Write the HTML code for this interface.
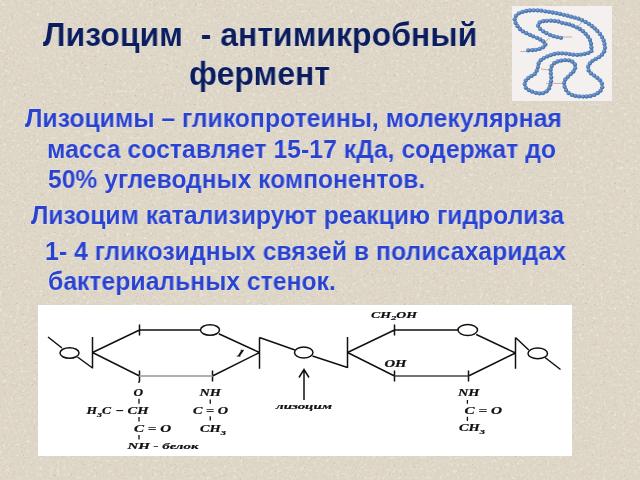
<!DOCTYPE html>
<html><head><meta charset="utf-8">
<style>
html,body{margin:0;padding:0;}
body{width:640px;height:480px;overflow:hidden;position:relative;background:#ded6c7;font-family:"Liberation Sans",sans-serif;}
.t{position:absolute;white-space:nowrap;font-weight:bold;line-height:1;will-change:transform;}
.ti{font-size:33px;color:#0b1d5c;text-shadow:0 0 1px rgba(255,255,255,0.9),0 0 1.6px rgba(240,240,255,0.7);transform-origin:0 0;transform:scaleX(0.97);}
.b{font-size:25px;color:#2943cf;text-shadow:0 0 1px rgba(255,255,255,0.9),0 0 1.6px rgba(240,240,255,0.7);transform-origin:0 0;transform:scaleX(0.988);}
#dg{position:absolute;left:38px;top:305px;width:534px;height:151px;background:#fff;}
#pr{position:absolute;left:512px;top:6px;width:100px;height:95px;background:#f3f0ef;}
svg{position:absolute;left:0;top:0;will-change:transform;}
</style></head><body>
<svg width="640" height="480" style="position:absolute;left:0;top:0">
<filter id="m" x="0" y="0" width="100%" height="100%"><feTurbulence type="fractalNoise" baseFrequency="0.3" numOctaves="3" seed="11"/><feColorMatrix values="0 0 0 0 0.94  0 0 0 0 0.92  0 0 0 0 0.87  1.6 0 0 0 -0.88"/></filter>
<filter id="n" x="0" y="0" width="100%" height="100%"><feTurbulence type="fractalNoise" baseFrequency="0.45" numOctaves="3" seed="7"/><feColorMatrix values="0 0 0 0 0.62  0 0 0 0 0.55  0 0 0 0 0.45  2.4 0 0 0 -1.38"/></filter>
<filter id="d" x="0" y="0" width="100%" height="100%"><feTurbulence type="fractalNoise" baseFrequency="0.9" numOctaves="1" seed="3"/><feColorMatrix values="0 0 0 0 0.4  0 0 0 0 0.35  0 0 0 0 0.28  5 0 0 0 -3.5"/></filter>
<rect width="640" height="480" filter="url(#m)"/><rect width="640" height="480" filter="url(#n)"/><rect width="640" height="480" filter="url(#d)"/>
</svg>
<div class="t ti" style="left:43px;top:18.4px">Лизоцим&nbsp; - антимикробный</div>
<div class="t ti" style="left:189px;top:57px">фермент</div>
<div class="t b" style="left:24.5px;top:106.1px;transform:scaleX(0.9916)">Лизоцимы – гликопротеины, молекулярная</div>
<div class="t b" style="left:47.4px;top:137.3px;transform:scaleX(0.9922)">масса составляет 15-17 кДа, содержат до</div>
<div class="t b" style="left:47.75px;top:166.5px;transform:scaleX(0.9852)">50% углеводных компонентов.</div>
<div class="t b" style="left:31.2px;top:202.8px;transform:scaleX(0.9873)">Лизоцим катализируют реакцию гидролиза</div>
<div class="t b" style="left:44.9px;top:238.6px;transform:scaleX(0.9930)">1- 4 гликозидных связей в полисахаридах</div>
<div class="t b" style="left:47.6px;top:269.2px;transform:scaleX(0.9890)">бактериальных стенок.</div>
<div id="pr"></div>
<div id="dg"></div>
<svg width="640" height="480" viewBox="0 0 640 480">
<defs><radialGradient id="bd" cx="0.4" cy="0.35" r="0.65"><stop offset="0" stop-color="#86a9d4"/><stop offset="0.6" stop-color="#4f7db9"/><stop offset="1" stop-color="#3a639c"/></radialGradient></defs>
<path d="M528.2 50.4 C529.5 50.3 533.6 50.2 536.0 49.8 C538.4 49.4 540.7 48.6 542.3 47.8 C543.9 46.9 545.2 45.6 545.4 44.6 C545.6 43.6 544.5 42.5 543.3 41.5 C542.1 40.5 540.2 39.4 538.1 38.4 C536.0 37.4 533.4 36.5 530.8 35.2 C528.2 34.0 524.8 32.7 522.5 31.1 C520.2 29.5 518.6 27.8 517.3 25.9 C516.0 24.0 514.7 21.5 514.7 19.6 C514.7 17.7 515.6 15.8 517.3 14.4 C518.9 13.0 521.6 12.0 524.6 11.3 C527.6 10.6 531.5 10.2 535.0 10.2 C538.5 10.2 542.1 10.9 545.4 11.3 C548.7 11.7 552.0 12.3 554.8 12.8 C557.6 13.4 559.4 13.8 562.0 14.4 C564.6 15.0 567.3 15.6 570.4 16.5 C573.5 17.4 577.5 18.2 580.8 19.6 C584.1 21.0 587.4 22.9 590.2 24.8 C593.0 26.7 595.4 28.8 597.5 31.1 C599.6 33.4 601.5 36.0 602.7 38.4 C603.9 40.8 604.5 43.6 604.8 45.7 C605.1 47.8 605.3 49.2 604.5 51.0 C603.7 52.8 602.0 54.9 600.0 56.5 C598.0 58.1 594.5 59.2 592.5 60.8 C590.5 62.4 588.7 64.5 588.2 66.3 C587.7 68.1 588.2 70.1 589.3 71.7 C590.4 73.3 592.9 74.5 594.7 76.0 C596.5 77.5 598.8 78.8 600.1 80.4 C601.4 82.0 602.3 84.0 602.3 85.8 C602.3 87.6 601.7 89.6 600.1 91.2 C598.5 92.8 595.6 94.6 592.5 95.5 C589.4 96.4 585.3 96.8 581.7 96.6 C578.1 96.4 573.5 95.8 570.8 94.5 C568.1 93.2 566.5 91.2 565.4 89.0 C564.3 86.8 563.8 83.6 564.3 81.5 C564.8 79.3 567.1 77.8 568.7 76.0 C570.3 74.2 573.0 72.4 574.1 70.6 C575.2 68.8 575.8 66.8 575.2 65.2 C574.7 63.6 572.6 61.6 570.8 60.8 C569.0 60.0 566.7 60.1 564.3 60.3 C561.9 60.5 558.6 61.1 556.6 61.9 C554.6 62.7 553.2 63.8 552.2 65.2 C551.2 66.7 550.8 68.6 550.6 70.6 C550.4 72.6 551.2 74.9 551.2 77.1 C551.2 79.3 551.2 81.4 550.6 83.6 C550.0 85.8 549.2 88.5 547.9 90.1 C546.5 91.7 544.5 92.8 542.5 93.3 C540.5 93.8 538.2 93.2 536.0 92.8 C533.8 92.3 531.3 91.6 529.5 90.6 C527.7 89.6 525.9 88.3 525.2 86.8 C524.5 85.3 524.5 83.0 525.2 81.4 C525.9 79.8 527.9 78.4 529.5 77.1 C531.1 75.8 533.5 75.2 534.9 73.8 C536.2 72.3 536.9 70.4 537.6 68.4 C538.3 66.4 538.1 63.7 539.2 61.9 C540.4 60.1 542.4 58.9 544.7 57.6 C547.0 56.3 550.8 55.0 553.3 54.3 C555.8 53.6 557.6 53.3 560.0 53.2 C562.4 53.2 564.9 53.5 567.6 53.8 C570.3 54.1 573.4 54.9 576.3 54.9 C579.2 54.9 582.5 54.4 585.0 53.8 C587.5 53.2 590.5 52.3 591.5 51.1 C592.5 49.9 591.5 48.5 591.2 46.7 C591.0 44.9 591.1 42.6 590.2 40.5 C589.3 38.4 587.7 36.1 586.0 34.2 C584.3 32.3 582.4 30.6 579.8 29.0 C577.2 27.4 573.4 25.8 570.4 24.8 C567.4 23.8 564.2 23.4 562.0 22.8 C559.8 22.1 559.1 21.5 556.9 21.2 C554.6 20.9 551.1 20.6 548.5 20.7 C545.9 20.8 543.0 21.0 541.2 21.7 C539.5 22.4 538.3 23.6 538.1 24.8 C537.9 26.0 538.8 27.6 540.2 29.0 C541.6 30.4 544.2 32.0 546.5 33.2 C548.8 34.4 551.2 35.5 553.8 36.3 C556.3 37.1 560.6 37.7 562.0 38.0" fill="none" stroke="#7aa0cf" stroke-width="2.4" stroke-linecap="round" stroke-linejoin="round"/>
<g fill="url(#bd)"><circle cx="528.2" cy="50.4" r="2.15"/><circle cx="532.2" cy="50.2" r="2.15"/><circle cx="535.8" cy="49.8" r="2.15"/><circle cx="539.6" cy="48.9" r="2.15"/><circle cx="543.0" cy="47.3" r="2.15"/><circle cx="545.4" cy="44.6" r="2.15"/><circle cx="543.3" cy="41.5" r="2.15"/><circle cx="540.2" cy="39.5" r="2.15"/><circle cx="536.8" cy="37.8" r="2.15"/><circle cx="533.1" cy="36.3" r="2.15"/><circle cx="529.8" cy="34.8" r="2.15"/><circle cx="526.3" cy="33.2" r="2.15"/><circle cx="522.8" cy="31.3" r="2.15"/><circle cx="519.9" cy="29.0" r="2.15"/><circle cx="517.5" cy="26.2" r="2.15"/><circle cx="515.6" cy="22.9" r="2.15"/><circle cx="514.7" cy="19.3" r="2.15"/><circle cx="516.0" cy="15.8" r="2.15"/><circle cx="518.9" cy="13.3" r="2.15"/><circle cx="522.4" cy="11.9" r="2.15"/><circle cx="526.2" cy="11.0" r="2.15"/><circle cx="529.9" cy="10.5" r="2.15"/><circle cx="533.7" cy="10.3" r="2.15"/><circle cx="537.6" cy="10.4" r="2.15"/><circle cx="541.3" cy="10.7" r="2.15"/><circle cx="545.2" cy="11.3" r="2.15"/><circle cx="548.9" cy="11.8" r="2.15"/><circle cx="552.6" cy="12.5" r="2.15"/><circle cx="556.4" cy="13.2" r="2.15"/><circle cx="560.0" cy="13.9" r="2.15"/><circle cx="563.8" cy="14.8" r="2.15"/><circle cx="567.5" cy="15.7" r="2.15"/><circle cx="571.1" cy="16.7" r="2.15"/><circle cx="574.7" cy="17.6" r="2.15"/><circle cx="578.5" cy="18.7" r="2.15"/><circle cx="582.0" cy="20.1" r="2.15"/><circle cx="585.5" cy="21.9" r="2.15"/><circle cx="588.7" cy="23.8" r="2.15"/><circle cx="591.8" cy="26.0" r="2.15"/><circle cx="594.7" cy="28.3" r="2.15"/><circle cx="597.3" cy="30.9" r="2.15"/><circle cx="599.9" cy="33.9" r="2.15"/><circle cx="602.0" cy="37.1" r="2.15"/><circle cx="603.6" cy="40.5" r="2.15"/><circle cx="604.5" cy="44.0" r="2.15"/><circle cx="605.0" cy="47.8" r="2.15"/><circle cx="604.2" cy="51.5" r="2.15"/><circle cx="602.0" cy="54.7" r="2.15"/><circle cx="599.2" cy="57.1" r="2.15"/><circle cx="595.8" cy="58.9" r="2.15"/><circle cx="592.5" cy="60.8" r="2.15"/><circle cx="589.8" cy="63.5" r="2.15"/><circle cx="588.1" cy="66.7" r="2.15"/><circle cx="588.6" cy="70.4" r="2.15"/><circle cx="591.0" cy="73.4" r="2.15"/><circle cx="594.1" cy="75.6" r="2.15"/><circle cx="597.2" cy="77.8" r="2.15"/><circle cx="600.0" cy="80.3" r="2.15"/><circle cx="601.9" cy="83.6" r="2.15"/><circle cx="602.2" cy="87.3" r="2.15"/><circle cx="600.6" cy="90.7" r="2.15"/><circle cx="597.6" cy="93.2" r="2.15"/><circle cx="594.3" cy="94.9" r="2.15"/><circle cx="590.5" cy="96.0" r="2.15"/><circle cx="586.7" cy="96.5" r="2.15"/><circle cx="583.1" cy="96.6" r="2.15"/><circle cx="579.1" cy="96.4" r="2.15"/><circle cx="575.3" cy="95.9" r="2.15"/><circle cx="571.9" cy="94.9" r="2.15"/><circle cx="568.5" cy="93.0" r="2.15"/><circle cx="566.0" cy="90.1" r="2.15"/><circle cx="564.6" cy="86.8" r="2.15"/><circle cx="564.1" cy="83.0" r="2.15"/><circle cx="565.3" cy="79.5" r="2.15"/><circle cx="567.9" cy="76.8" r="2.15"/><circle cx="570.7" cy="74.1" r="2.15"/><circle cx="573.4" cy="71.5" r="2.15"/><circle cx="575.2" cy="68.1" r="2.15"/><circle cx="574.9" cy="64.4" r="2.15"/><circle cx="572.3" cy="61.7" r="2.15"/><circle cx="568.9" cy="60.3" r="2.15"/><circle cx="565.0" cy="60.2" r="2.15"/><circle cx="561.1" cy="60.7" r="2.15"/><circle cx="557.6" cy="61.5" r="2.15"/><circle cx="554.2" cy="63.2" r="2.15"/><circle cx="551.7" cy="66.1" r="2.15"/><circle cx="550.7" cy="69.7" r="2.15"/><circle cx="550.8" cy="73.5" r="2.15"/><circle cx="551.2" cy="77.3" r="2.15"/><circle cx="551.0" cy="81.2" r="2.15"/><circle cx="550.3" cy="84.8" r="2.15"/><circle cx="549.0" cy="88.4" r="2.15"/><circle cx="546.6" cy="91.3" r="2.15"/><circle cx="543.2" cy="93.1" r="2.15"/><circle cx="539.5" cy="93.4" r="2.15"/><circle cx="535.8" cy="92.8" r="2.15"/><circle cx="532.1" cy="91.7" r="2.15"/><circle cx="528.7" cy="90.1" r="2.15"/><circle cx="525.8" cy="87.8" r="2.15"/><circle cx="524.7" cy="84.1" r="2.15"/><circle cx="525.7" cy="80.6" r="2.15"/><circle cx="528.4" cy="78.0" r="2.15"/><circle cx="531.6" cy="75.9" r="2.15"/><circle cx="534.8" cy="73.9" r="2.15"/><circle cx="536.7" cy="70.7" r="2.15"/><circle cx="537.9" cy="67.1" r="2.15"/><circle cx="538.6" cy="63.4" r="2.15"/><circle cx="540.8" cy="60.2" r="2.15"/><circle cx="543.8" cy="58.1" r="2.15"/><circle cx="547.3" cy="56.4" r="2.15"/><circle cx="550.8" cy="55.1" r="2.15"/><circle cx="554.4" cy="54.0" r="2.15"/><circle cx="558.1" cy="53.4" r="2.15"/><circle cx="562.0" cy="53.3" r="2.15"/><circle cx="565.8" cy="53.6" r="2.15"/><circle cx="569.5" cy="54.1" r="2.15"/><circle cx="573.2" cy="54.7" r="2.15"/><circle cx="577.2" cy="54.9" r="2.15"/><circle cx="580.8" cy="54.6" r="2.15"/><circle cx="584.6" cy="53.9" r="2.15"/><circle cx="588.3" cy="52.9" r="2.15"/><circle cx="591.5" cy="51.1" r="2.15"/><circle cx="591.4" cy="47.5" r="2.15"/><circle cx="591.0" cy="43.7" r="2.15"/><circle cx="590.0" cy="40.0" r="2.15"/><circle cx="588.0" cy="36.6" r="2.15"/><circle cx="585.6" cy="33.8" r="2.15"/><circle cx="582.9" cy="31.2" r="2.15"/><circle cx="579.8" cy="29.0" r="2.15"/><circle cx="576.5" cy="27.3" r="2.15"/><circle cx="572.8" cy="25.7" r="2.15"/><circle cx="569.3" cy="24.4" r="2.15"/><circle cx="565.7" cy="23.6" r="2.15"/><circle cx="562.0" cy="22.8" r="2.15"/><circle cx="558.3" cy="21.5" r="2.15"/><circle cx="554.6" cy="20.9" r="2.15"/><circle cx="550.8" cy="20.7" r="2.15"/><circle cx="546.9" cy="20.8" r="2.15"/><circle cx="543.3" cy="21.2" r="2.15"/><circle cx="539.7" cy="22.5" r="2.15"/><circle cx="538.1" cy="25.7" r="2.15"/><circle cx="540.1" cy="28.9" r="2.15"/><circle cx="543.2" cy="31.3" r="2.15"/><circle cx="546.5" cy="33.2" r="2.15"/><circle cx="549.8" cy="34.8" r="2.15"/><circle cx="553.4" cy="36.2" r="2.15"/><circle cx="557.1" cy="37.1" r="2.15"/><circle cx="560.9" cy="37.8" r="2.15"/></g>
<g stroke="#8c6e5a" stroke-width="0.6" opacity="0.8"><path d="M578 26.7L582.2 21.5M544 43.2L549.2 38M520.3 51.5H527.5M563 37H571.9M541 69L550.2 70M546 83.4H562.6"/></g>
<g stroke="#111" stroke-width="1.5" fill="none">
<path d="M48 337L62 348M77.5 357L92.5 368M92.5 337V368.5M92.5 352.5L139.5 330M92.5 352.5L139.5 376M139.5 324.5V335.5M139.5 370.5V381.5M139.5 330H200.5"/>
<ellipse cx="69.5" cy="353" rx="9.5" ry="5.3"/>
<ellipse cx="210" cy="330" rx="9.5" ry="5.3"/>
<path d="M218.75 333.75L259.5 352.5M212.5 376L259.5 352.5M212.5 370.5V381.5M259.5 337.5V368.75M259.5 337.5L295 350"/>
<ellipse cx="303.75" cy="352.5" rx="9.25" ry="5.5"/>
<path d="M312.5 356L347.5 367.5M347.5 337V368M347.5 352.5L394.5 330M347.5 352.5L394.5 376M394.5 324.5V335.5M394.5 370.5V381.5M394.5 330H458"/>
<ellipse cx="467.75" cy="330" rx="9.75" ry="5.5"/>
<path d="M476.25 334.5L515.5 353M468.5 376L515.5 353M468.5 370.5V381.5M515.5 337.5V368.75M515.5 337.5L528.75 350"/>
<ellipse cx="537.75" cy="353.4" rx="9.75" ry="5.4"/>
<path d="M545 357.5L560.5 369.5"/>
<path d="M304 370V400M299 377.5L304 369.5L309 377.5"/>
<path d="M242.6 350.4L238.8 356" stroke-width="2.1"/><path d="M240.6 350.3H244M236.8 356.1H240.4" stroke-width="0.9"/>
<path d="M139 381V383M139 398.75V403.75M139 417V421.5M139 435V439.4M210.25 399.4V403.75M210.25 416.25V420.6M467.4 399.9V403.8M467.4 416.7V421" stroke-width="1.3"/>
</g>
<path d="M139.5 376H212.5" stroke="#b0b0b0" stroke-width="1.8"/><path d="M394.5 376H468.5" stroke="#444" stroke-width="1.6"/>
<g font-family="Liberation Serif" font-weight="bold" font-style="italic" font-size="9.6" fill="#111" stroke="#111" stroke-width="0.2">
<text x="133.5" y="395.6" textLength="9.6" lengthAdjust="spacingAndGlyphs">O</text>
<text x="86.5" y="413.75" textLength="24.5" lengthAdjust="spacingAndGlyphs">H<tspan dy="3" font-size="7">3</tspan><tspan dy="-3">C</tspan></text><path d="M116.3 410.6H123.2" stroke-width="1.1"/><text x="127.6" y="413.75" textLength="21" lengthAdjust="spacingAndGlyphs">CH</text>
<text x="134" y="431.75" textLength="37" lengthAdjust="spacingAndGlyphs">C = O</text>
<text x="127.5" y="449" textLength="71" lengthAdjust="spacingAndGlyphs" font-size="9">NH - белок</text>
<text x="199.5" y="395.6" textLength="21.5" lengthAdjust="spacingAndGlyphs">NH</text>
<text x="193" y="413.75" textLength="35" lengthAdjust="spacingAndGlyphs">C = O</text>
<text x="200" y="431.7" textLength="26" lengthAdjust="spacingAndGlyphs">CH<tspan dy="3" font-size="7">3</tspan></text>
<text x="276" y="409" textLength="56" lengthAdjust="spacingAndGlyphs" font-size="8.7">лизоцим</text>
<text x="371" y="317.65" textLength="46" lengthAdjust="spacingAndGlyphs" font-size="9">CH<tspan dy="2" font-size="7">2</tspan><tspan dy="-2">OH</tspan></text>
<text x="384.5" y="366.8" textLength="22" lengthAdjust="spacingAndGlyphs">OH</text>
<text x="458" y="396" textLength="21.5" lengthAdjust="spacingAndGlyphs">NH</text>
<text x="464.5" y="413.6" textLength="37.5" lengthAdjust="spacingAndGlyphs">C = O</text>
<text x="459" y="431.25" textLength="26" lengthAdjust="spacingAndGlyphs">CH<tspan dy="3" font-size="7">3</tspan></text>
</g>
</svg>
</body></html>
